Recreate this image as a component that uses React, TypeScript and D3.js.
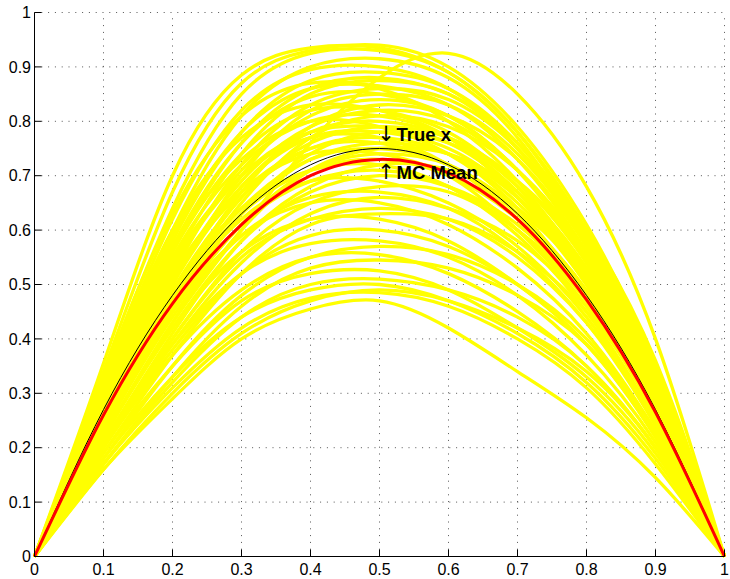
import React from 'react';
import * as d3 from 'd3';

// sample positions along x
const sampleX = [0, 0.1, 0.2, 0.3, 0.4, 0.5, 0.6, 0.7, 0.8, 0.9, 1];

const tickValues = [0, 0.1, 0.2, 0.3, 0.4, 0.5, 0.6, 0.7, 0.8, 0.9, 1];
const tickLabels = ['0', '0.1', '0.2', '0.3', '0.4', '0.5', '0.6', '0.7', '0.8', '0.9', '1'];

const trueX = [0, 0.27, 0.48, 0.63, 0.72, 0.75, 0.72, 0.63, 0.48, 0.27, 0];
const mcMean = [0, 0.26, 0.465, 0.61, 0.7, 0.73, 0.705, 0.62, 0.472, 0.265, 0];

// Monte Carlo realisations
const mcSamples: number[][] = [
  [0, 0.355, 0.7, 0.885, 0.935, 0.935, 0.89, 0.78, 0.6, 0.34, 0],
  [0, 0.34, 0.67, 0.87, 0.93, 0.94, 0.9, 0.79, 0.61, 0.35, 0],
  [0, 0.33, 0.64, 0.85, 0.925, 0.93, 0.89, 0.78, 0.59, 0.33, 0],
  [0, 0.22, 0.43, 0.6, 0.76, 0.88, 0.925, 0.85, 0.68, 0.4, 0],
  [0, 0.31, 0.6, 0.81, 0.9, 0.915, 0.88, 0.77, 0.58, 0.33, 0],
  [0, 0.32, 0.62, 0.82, 0.895, 0.9, 0.86, 0.75, 0.57, 0.32, 0],
  [0, 0.3, 0.58, 0.78, 0.875, 0.89, 0.86, 0.76, 0.59, 0.34, 0],
  [0, 0.29, 0.56, 0.76, 0.86, 0.88, 0.85, 0.76, 0.6, 0.36, 0],
  [0, 0.33, 0.63, 0.81, 0.87, 0.86, 0.8, 0.69, 0.52, 0.29, 0],
  [0, 0.28, 0.54, 0.74, 0.85, 0.875, 0.85, 0.75, 0.58, 0.33, 0],
  [0, 0.31, 0.59, 0.78, 0.86, 0.865, 0.83, 0.73, 0.56, 0.32, 0],
  [0, 0.27, 0.52, 0.72, 0.83, 0.86, 0.84, 0.75, 0.59, 0.35, 0],
  [0, 0.3, 0.57, 0.76, 0.845, 0.85, 0.81, 0.71, 0.54, 0.3, 0],
  [0, 0.26, 0.5, 0.7, 0.82, 0.85, 0.83, 0.74, 0.58, 0.34, 0],
  [0, 0.32, 0.6, 0.77, 0.83, 0.82, 0.77, 0.66, 0.5, 0.28, 0],
  [0, 0.28, 0.53, 0.71, 0.81, 0.84, 0.81, 0.71, 0.55, 0.31, 0],
  [0, 0.25, 0.48, 0.67, 0.79, 0.83, 0.81, 0.73, 0.57, 0.33, 0],
  [0, 0.3, 0.56, 0.74, 0.82, 0.82, 0.78, 0.68, 0.52, 0.29, 0],
  [0, 0.27, 0.51, 0.69, 0.79, 0.82, 0.8, 0.71, 0.56, 0.32, 0],
  [0, 0.29, 0.55, 0.72, 0.8, 0.81, 0.77, 0.67, 0.51, 0.28, 0],
  [0, 0.24, 0.47, 0.65, 0.77, 0.81, 0.79, 0.71, 0.56, 0.33, 0],
  [0, 0.31, 0.57, 0.73, 0.8, 0.79, 0.74, 0.64, 0.48, 0.27, 0],
  [0, 0.26, 0.5, 0.68, 0.78, 0.8, 0.77, 0.68, 0.53, 0.3, 0],
  [0, 0.28, 0.53, 0.7, 0.78, 0.79, 0.76, 0.67, 0.52, 0.29, 0],
  [0, 0.25, 0.48, 0.66, 0.76, 0.79, 0.77, 0.69, 0.54, 0.31, 0],
  [0, 0.27, 0.51, 0.68, 0.77, 0.78, 0.75, 0.66, 0.51, 0.29, 0],
  [0, 0.23, 0.45, 0.63, 0.74, 0.78, 0.76, 0.69, 0.55, 0.32, 0],
  [0, 0.29, 0.54, 0.7, 0.77, 0.77, 0.72, 0.62, 0.47, 0.26, 0],
  [0, 0.26, 0.49, 0.66, 0.75, 0.77, 0.74, 0.65, 0.5, 0.28, 0],
  [0, 0.24, 0.46, 0.63, 0.73, 0.76, 0.74, 0.66, 0.52, 0.3, 0],
  [0, 0.27, 0.51, 0.67, 0.75, 0.76, 0.72, 0.63, 0.48, 0.27, 0],
  [0, 0.22, 0.43, 0.6, 0.71, 0.75, 0.74, 0.67, 0.53, 0.31, 0],
  [0, 0.25, 0.48, 0.64, 0.73, 0.75, 0.72, 0.63, 0.49, 0.28, 0],
  [0, 0.28, 0.52, 0.67, 0.74, 0.74, 0.7, 0.6, 0.46, 0.26, 0],
  [0, 0.23, 0.45, 0.61, 0.71, 0.74, 0.72, 0.64, 0.51, 0.29, 0],
  [0, 0.25, 0.47, 0.63, 0.71, 0.73, 0.7, 0.62, 0.48, 0.27, 0],
  [0, 0.21, 0.41, 0.58, 0.68, 0.72, 0.71, 0.64, 0.51, 0.3, 0],
  [0, 0.26, 0.49, 0.64, 0.71, 0.72, 0.68, 0.59, 0.45, 0.25, 0],
  [0, 0.24, 0.45, 0.61, 0.69, 0.71, 0.68, 0.6, 0.47, 0.27, 0],
  [0, 0.22, 0.42, 0.58, 0.67, 0.7, 0.68, 0.61, 0.48, 0.28, 0],
  [0, 0.25, 0.47, 0.62, 0.69, 0.69, 0.65, 0.57, 0.44, 0.25, 0],
  [0, 0.21, 0.4, 0.56, 0.65, 0.68, 0.67, 0.6, 0.48, 0.28, 0],
  [0, 0.23, 0.44, 0.59, 0.66, 0.67, 0.64, 0.56, 0.43, 0.24, 0],
  [0, 0.2, 0.39, 0.54, 0.63, 0.66, 0.64, 0.58, 0.46, 0.27, 0],
  [0, 0.24, 0.45, 0.59, 0.65, 0.65, 0.61, 0.53, 0.41, 0.23, 0],
  [0, 0.21, 0.4, 0.55, 0.62, 0.64, 0.62, 0.55, 0.43, 0.25, 0],
  [0, 0.19, 0.37, 0.52, 0.61, 0.63, 0.62, 0.56, 0.45, 0.27, 0],
  [0, 0.22, 0.42, 0.56, 0.62, 0.62, 0.58, 0.5, 0.39, 0.22, 0],
  [0, 0.2, 0.38, 0.52, 0.59, 0.6, 0.57, 0.5, 0.39, 0.22, 0],
  [0, 0.21, 0.39, 0.52, 0.575, 0.58, 0.55, 0.48, 0.37, 0.21, 0],
  [0, 0.18, 0.35, 0.48, 0.55, 0.57, 0.555, 0.5, 0.4, 0.23, 0],
  [0, 0.2, 0.37, 0.49, 0.55, 0.555, 0.52, 0.45, 0.35, 0.2, 0],
  [0, 0.17, 0.33, 0.46, 0.53, 0.545, 0.53, 0.48, 0.39, 0.23, 0],
  [0, 0.19, 0.35, 0.47, 0.52, 0.525, 0.49, 0.42, 0.33, 0.19, 0],
  [0, 0.17, 0.32, 0.44, 0.5, 0.51, 0.49, 0.44, 0.35, 0.2, 0],
  [0, 0.18, 0.33, 0.44, 0.49, 0.5, 0.47, 0.41, 0.32, 0.18, 0],
  [0, 0.16, 0.3, 0.41, 0.47, 0.49, 0.47, 0.42, 0.34, 0.2, 0],
  [0, 0.16, 0.29, 0.4, 0.455, 0.47, 0.42, 0.34, 0.255, 0.145, 0],
  [0, 0.17, 0.31, 0.42, 0.475, 0.485, 0.46, 0.4, 0.31, 0.17, 0],
];

const width = 730;
const height = 579;
const font = '"Liberation Sans", Arial, Helvetica, sans-serif';

export default function App() {
  const x = d3.scaleLinear().domain([0, 1]).range([34.5, 724.5]);
  const y = d3.scaleLinear().domain([0, 1]).range([556.5, 12.5]);

  const line = d3
    .line<number>()
    .x((_, i) => x(sampleX[i]))
    .y((d) => y(d))
    .curve(d3.curveNatural);

  return (
    <div style={{ position: 'absolute', left: 0, top: 0 }}>
      <svg width={width} height={height} style={{ display: 'block', background: '#fff' }}>
        {/* grid */}
        <g stroke="#555" strokeWidth={1} strokeDasharray="1 5.8">
          {tickValues.slice(1).map((t) => (
            <line key={'gx' + t} x1={x(t)} x2={x(t)} y1={y(0)} y2={y(1)} />
          ))}
          {tickValues.slice(1).map((t) => (
            <line key={'gy' + t} x1={x(0)} x2={x(1)} y1={y(t)} y2={y(t)} />
          ))}
        </g>

        {/* MC samples */}
        <g fill="none" stroke="#ffff00" strokeWidth={3.3} strokeLinejoin="round">
          {mcSamples.map((s, i) => (
            <path key={i} d={line(s) || ''} />
          ))}
        </g>
        <path d={line(trueX) || ''} fill="none" stroke="#000" strokeWidth={1} />
        <path d={line(mcMean) || ''} fill="none" stroke="#ff0000" strokeWidth={3} />

        {/* axes */}
        <g stroke="#000" strokeWidth={1}>
          <line x1={x(0)} x2={x(0)} y1={y(0)} y2={y(1)} />
          <line x1={x(0)} x2={x(1)} y1={y(0)} y2={y(0)} />
          {tickValues.map((t) => (
            <line key={'tx' + t} x1={x(t)} x2={x(t)} y1={y(0)} y2={y(0) - 7} />
          ))}
          {tickValues.map((t) => (
            <line key={'ty' + t} x1={x(0)} x2={x(0) + 7} y1={y(t)} y2={y(t)} />
          ))}
        </g>
        <g fontFamily={font} fontSize={16} fill="#000">
          {tickValues.map((t, i) => (
            <text key={'lx' + t} x={x(t)} y={575} textAnchor="middle">
              {tickLabels[i]}
            </text>
          ))}
          {tickValues.map((t, i) => (
            <text key={'ly' + t} x={31} y={y(t)} dy="0.35em" textAnchor="end">
              {tickLabels[i]}
            </text>
          ))}
        </g>

        {/* annotations */}
        <g fill="#000">
          <text x={386} y={141} fontFamily='"DejaVu Sans", sans-serif' fontSize={21} textAnchor="middle">
            ↓
          </text>
          <text x={396.5} y={141} fontFamily={font} fontSize={18.5} fontWeight="bold">
            True x
          </text>
          <text x={386} y={179} fontFamily='"DejaVu Sans", sans-serif' fontSize={21} textAnchor="middle">
            ↑
          </text>
          <text x={396.5} y={179} fontFamily={font} fontSize={18.5} fontWeight="bold">
            MC Mean
          </text>
        </g>
      </svg>
    </div>
  );
}
